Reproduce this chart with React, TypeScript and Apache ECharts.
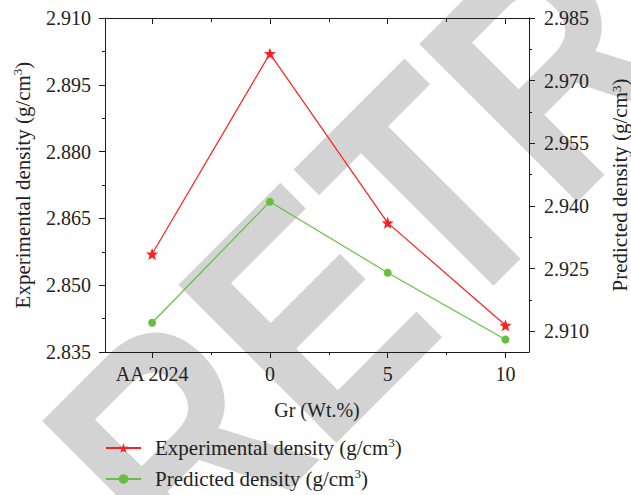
import React, { useEffect, useRef } from "react";
import * as echarts from "echarts";

const categories = ["AA 2024", "0", "5", "10"];
const experimental = [2.857, 2.902, 2.864, 2.841];
const predicted = [2.912, 2.941, 2.924, 2.908];
const xMajor = [0, 1, 2, 3];
const xMinor = [0.5, 1.5, 2.5];
const rightTicks = [2.91, 2.925, 2.94, 2.955, 2.97, 2.985];
const rightMinor = [2.9175, 2.9325, 2.9475, 2.9625, 2.9775];
const seriesNames = ["Experimental density (g/cm3)", "Predicted density (g/cm3)"];
const richNames = [
  "{a|Experimental density (g/cm}{s|3}{a|)}",
  "{a|Predicted density (g/cm}{s|3}{a|)}",
];

const SERIF = "Liberation Serif";
const AXIS = "#1a1a1a";
const TXT = "#222";
const RED = "#ff1f1f";
const GREEN = "#66c040";
const STAR = "path://M12,1 L14.9,8.6 L23,8.9 L16.6,14 L18.9,21.9 L12,17.3 L5.1,21.9 L7.4,14 L1,8.9 L9.1,8.6 Z";

const rich = {
  a: { fontSize: 21, fontFamily: SERIF, color: TXT, lineHeight: 24 },
  s: { fontSize: 13, fontFamily: SERIF, color: TXT, verticalAlign: "top", lineHeight: 13 },
};
const richTight = {
  a: { fontSize: 21, fontFamily: SERIF, color: TXT, lineHeight: 20 },
  s: { fontSize: 13, fontFamily: SERIF, color: TXT, verticalAlign: "top", lineHeight: 13 },
};

export default function App() {
  const ref = useRef<HTMLDivElement>(null);
  useEffect(() => {
    if (!ref.current) return;
    const chart = echarts.init(ref.current, null, { renderer: "svg" });
    const xBase = {
      type: "value",
      min: -0.4,
      max: 3.2,
      splitLine: { show: false },
      axisLine: { show: false, onZero: false, lineStyle: { color: AXIS } },
      axisLabel: { show: false },
    };
    const legendBase = {
      orient: "vertical",
      left: 105,
      padding: 0,
      itemWidth: 35,
      itemHeight: 12,
      formatter: (n: string) => richNames[seriesNames.indexOf(n)],
      textStyle: { rich, padding: [0, 0, 0, 9] },
    };
    chart.setOption({
      animation: false,
      backgroundColor: "#fff",
      textStyle: { fontFamily: SERIF },
      graphic: [
        {
          type: "text",
          x: 108,
          y: 512,
          rotation: Math.PI / 4,
          scaleX: 0.82,
          z: -10,
          silent: true,
          style: {
            text: "RETRACTED",
            fontSize: 325,
            fontWeight: "bold",
            fontFamily: "Liberation Sans",
            fill: "#d3d3d3",
            align: "left",
            verticalAlign: "middle",
          },
        },
      ],
      grid: {
        left: 105,
        right: 102,
        top: 18,
        bottom: 143,
        containLabel: false,
        outerBoundsMode: "none",
      },
      legend: [
        { ...legendBase, top: 436, data: [seriesNames[0]] },
        { ...legendBase, top: 467, data: [seriesNames[1]] },
      ],
      xAxis: [
        {
          ...xBase,
          position: "bottom",
          axisLine: { show: true, onZero: false, lineStyle: { color: AXIS, width: 1 } },
          axisTick: { show: true, customValues: xMajor, length: 6, lineStyle: { color: AXIS } },
          axisLabel: {
            show: true,
            customValues: xMajor,
            formatter: (v: number) => categories[Math.round(v)],
            fontSize: 20,
            fontFamily: SERIF,
            color: TXT,
            margin: 12,
          },
          name: "Gr (Wt.%)",
          nameLocation: "middle",
          nameGap: 48,
          nameTextStyle: { fontSize: 20, fontFamily: SERIF, color: TXT },
        },
        {
          ...xBase,
          position: "bottom",
          axisTick: { show: true, customValues: xMinor, length: 3, lineStyle: { color: AXIS } },
        },
        {
          ...xBase,
          position: "top",
          axisLine: { show: true, onZero: false, lineStyle: { color: AXIS, width: 1 } },
          axisTick: { show: true, inside: true, customValues: xMajor, length: 6, lineStyle: { color: AXIS } },
        },
        {
          ...xBase,
          position: "top",
          axisTick: { show: true, inside: true, customValues: xMinor, length: 4, lineStyle: { color: AXIS } },
        },
      ],
      yAxis: [
        {
          type: "value",
          position: "left",
          min: 2.835,
          max: 2.91,
          interval: 0.015,
          splitLine: { show: false },
          axisLine: { show: true, onZero: false, lineStyle: { color: AXIS, width: 1 } },
          axisTick: { show: true, length: 6, lineStyle: { color: AXIS } },
          minorTick: { show: true, splitNumber: 2, length: 3, lineStyle: { color: AXIS } },
          axisLabel: {
            formatter: (v: number) => v.toFixed(3),
            fontSize: 20,
            fontFamily: SERIF,
            color: TXT,
            margin: 14,
          },
          name: richNames[0],
          nameLocation: "middle",
          nameRotate: 90,
          nameGap: 70,
          nameTextStyle: { rich },
        },
        {
          type: "value",
          position: "right",
          min: 2.905,
          max: 2.985,
          splitLine: { show: false },
          axisLine: { show: true, onZero: false, lineStyle: { color: AXIS, width: 1 } },
          axisTick: { show: true, customValues: rightTicks, length: 6, lineStyle: { color: AXIS } },
          axisLabel: {
            customValues: rightTicks,
            formatter: (v: number) => v.toFixed(3),
            fontSize: 20,
            fontFamily: SERIF,
            color: TXT,
            margin: 15,
          },
          name: richNames[1],
          nameLocation: "middle",
          nameRotate: 90,
          nameGap: 81,
          nameTextStyle: { rich: richTight },
        },
        {
          type: "value",
          position: "right",
          min: 2.905,
          max: 2.985,
          splitLine: { show: false },
          axisLine: { show: false, onZero: false },
          axisLabel: { show: false },
          axisTick: { show: true, customValues: rightMinor, length: 3, lineStyle: { color: AXIS } },
        },
      ],
      series: [
        {
          name: seriesNames[0],
          type: "line",
          xAxisIndex: 0,
          yAxisIndex: 0,
          data: experimental.map((v, i) => [i, v]),
          symbol: STAR,
          symbolSize: 12,
          lineStyle: { color: RED, width: 1.2 },
          itemStyle: { color: RED },
          z: 5,
        },
        {
          name: seriesNames[1],
          type: "line",
          xAxisIndex: 0,
          yAxisIndex: 1,
          data: predicted.map((v, i) => [i, v]),
          symbol: "circle",
          symbolSize: 8,
          lineStyle: { color: GREEN, width: 1.2 },
          itemStyle: { color: GREEN },
          z: 4,
        },
      ],
    });
    return () => chart.dispose();
  }, []);
  return (
    <div
      ref={ref}
      style={{ position: "fixed", left: 0, top: 0, width: 631, height: 495, background: "#fff" }}
    />
  );
}
